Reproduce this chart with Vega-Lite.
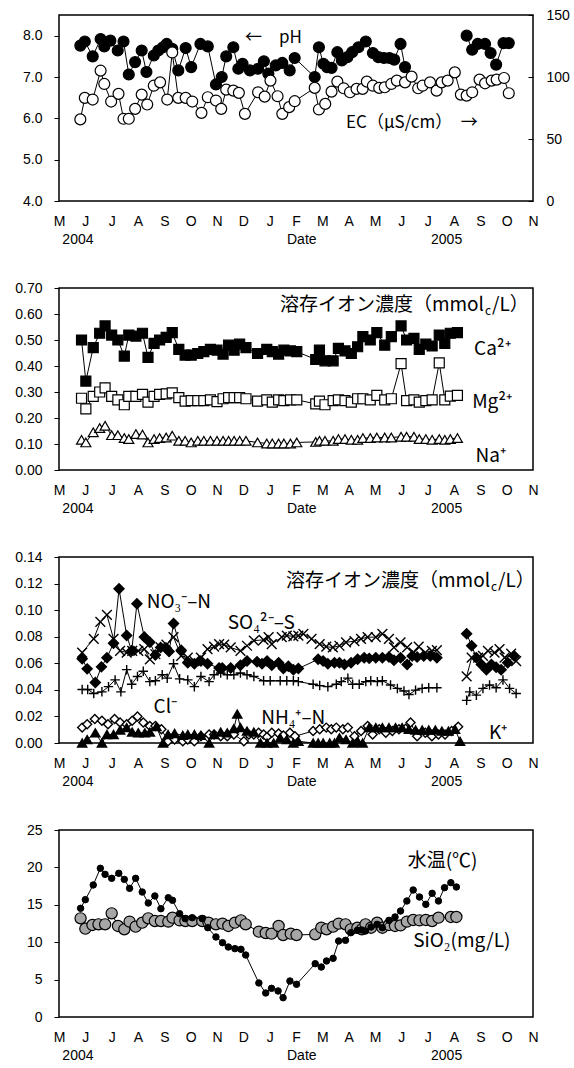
{
"$schema":"https://vega.github.io/schema/vega-lite/v6.json",
"background":"white",
"padding":{"left":14,"top":7,"right":4,"bottom":4},
"spacing":33,
"resolve":{"scale":{"shape":"independent","fill":"independent","size":"independent"}},
"config":{
 "view":{"stroke":"black","strokeWidth":1.5},
 "axis":{"grid":false,"domain":false,"labelFont":"Liberation Sans","labelFontSize":14,"labelColor":"black","tickColor":"black","tickSize":5,"labelPadding":12},
 "axisX":{"ticks":false,"labelPadding":13,"labelOverlap":false,"labelFlush":false,"labelBound":false,"labelLineHeight":18},
 "text":{"font":"Noto Sans CJK JP","color":"black"}
},
"datasets":{
"p1":[
{"m":0.81,"v":7.76,"s":"pH"},{"m":0.98,"v":7.86,"s":"pH"},{"m":1.28,"v":7.50,"s":"pH"},{"m":1.58,"v":7.92,"s":"pH"},{"m":1.72,"v":7.74,"s":"pH"},{"m":1.95,"v":7.88,"s":"pH"},{"m":2.23,"v":7.64,"s":"pH"},{"m":2.45,"v":7.86,"s":"pH"},{"m":2.65,"v":7.06,"s":"pH"},{"m":2.89,"v":7.36,"s":"pH"},{"m":3.14,"v":7.64,"s":"pH"},{"m":3.32,"v":7.12,"s":"pH"},{"m":3.60,"v":7.52,"s":"pH"},{"m":3.77,"v":7.64,"s":"pH"},{"m":3.95,"v":7.72,"s":"pH"},{"m":4.09,"v":7.80,"s":"pH"},{"m":4.30,"v":7.68,"s":"pH"},{"m":4.53,"v":7.16,"s":"pH"},{"m":4.81,"v":7.70,"s":"pH"},{"m":5.02,"v":7.24,"s":"pH"},{"m":5.37,"v":7.80,"s":"pH"},{"m":5.65,"v":7.74,"s":"pH"},{"m":5.96,"v":6.82,"s":"pH"},{"m":6.18,"v":7.00,"s":"pH"},{"m":6.35,"v":7.50,"s":"pH"},{"m":6.62,"v":7.72,"s":"pH"},{"m":6.81,"v":7.20,"s":"pH"},{"m":6.97,"v":7.32,"s":"pH"},{"m":7.25,"v":7.16,"s":"pH"},{"m":7.56,"v":7.20,"s":"pH"},{"m":7.78,"v":7.38,"s":"pH"},{"m":7.95,"v":7.08,"s":"pH"},{"m":8.23,"v":7.28,"s":"pH"},{"m":8.48,"v":7.34,"s":"pH"},{"m":8.76,"v":7.16,"s":"pH"},{"m":8.95,"v":7.46,"s":"pH"},{"m":9.71,"v":7.00,"s":"pH"},{"m":9.87,"v":7.72,"s":"pH"},{"m":10.04,"v":7.32,"s":"pH"},{"m":10.18,"v":7.24,"s":"pH"},{"m":10.35,"v":7.22,"s":"pH"},{"m":10.57,"v":7.60,"s":"pH"},{"m":10.74,"v":7.40,"s":"pH"},{"m":10.95,"v":7.48,"s":"pH"},{"m":11.13,"v":7.60,"s":"pH"},{"m":11.37,"v":7.72,"s":"pH"},{"m":11.65,"v":7.86,"s":"pH"},{"m":11.92,"v":7.58,"s":"pH"},{"m":12.13,"v":7.48,"s":"pH"},{"m":12.34,"v":7.46,"s":"pH"},{"m":12.55,"v":7.46,"s":"pH"},{"m":12.73,"v":7.42,"s":"pH"},{"m":12.97,"v":7.80,"s":"pH"},{"m":13.14,"v":7.24,"s":"pH"},
{"m":15.48,"v":8.00,"s":"pH","g":2},{"m":15.69,"v":7.66,"s":"pH","g":2},{"m":15.90,"v":7.80,"s":"pH","g":2},{"m":16.18,"v":7.80,"s":"pH","g":2},{"m":16.39,"v":7.58,"s":"pH","g":2},{"m":16.60,"v":7.30,"s":"pH","g":2},{"m":16.88,"v":7.82,"s":"pH","g":2},{"m":17.08,"v":7.82,"s":"pH","g":2},
{"m":0.81,"v":65.8,"s":"EC"},{"m":0.98,"v":83.2,"s":"EC"},{"m":1.28,"v":81.8,"s":"EC"},{"m":1.58,"v":105.1,"s":"EC"},{"m":1.72,"v":94.4,"s":"EC"},{"m":1.98,"v":80.2,"s":"EC"},{"m":2.26,"v":86.4,"s":"EC"},{"m":2.45,"v":66.3,"s":"EC"},{"m":2.65,"v":66.3,"s":"EC"},{"m":2.89,"v":74.3,"s":"EC"},{"m":3.14,"v":85.8,"s":"EC"},{"m":3.35,"v":77.8,"s":"EC"},{"m":3.60,"v":93.0,"s":"EC"},{"m":3.84,"v":95.7,"s":"EC"},{"m":4.11,"v":81.8,"s":"EC"},{"m":4.30,"v":119.8,"s":"EC"},{"m":4.53,"v":83.2,"s":"EC"},{"m":4.81,"v":83.2,"s":"EC"},{"m":5.06,"v":80.2,"s":"EC"},{"m":5.41,"v":71.1,"s":"EC"},{"m":5.65,"v":83.7,"s":"EC"},{"m":5.96,"v":81.0,"s":"EC"},{"m":6.16,"v":74.3,"s":"EC"},{"m":6.35,"v":89.8,"s":"EC"},{"m":6.62,"v":89.0,"s":"EC"},{"m":6.83,"v":87.2,"s":"EC"},{"m":7.06,"v":70.3,"s":"EC"},{"m":7.56,"v":87.7,"s":"EC"},{"m":7.81,"v":84.2,"s":"EC"},{"m":8.03,"v":97.1,"s":"EC"},{"m":8.30,"v":84.5,"s":"EC"},{"m":8.48,"v":70.3,"s":"EC"},{"m":8.74,"v":75.7,"s":"EC"},{"m":8.95,"v":80.5,"s":"EC"},{"m":9.71,"v":91.2,"s":"EC"},{"m":9.87,"v":73.8,"s":"EC"},{"m":10.11,"v":78.3,"s":"EC"},{"m":10.35,"v":88.2,"s":"EC"},{"m":10.57,"v":96.3,"s":"EC"},{"m":10.81,"v":90.9,"s":"EC"},{"m":11.05,"v":87.7,"s":"EC"},{"m":11.30,"v":90.4,"s":"EC"},{"m":11.53,"v":90.4,"s":"EC"},{"m":11.69,"v":96.3,"s":"EC"},{"m":11.92,"v":93.0,"s":"EC"},{"m":12.16,"v":91.2,"s":"EC"},{"m":12.37,"v":91.7,"s":"EC"},{"m":12.62,"v":94.4,"s":"EC"},{"m":12.83,"v":97.1,"s":"EC"},{"m":13.14,"v":95.7,"s":"EC"},{"m":13.39,"v":100.3,"s":"EC"},{"m":13.64,"v":90.9,"s":"EC"},{"m":13.81,"v":93.0,"s":"EC"},{"m":14.09,"v":95.7,"s":"EC"},{"m":14.34,"v":89.0,"s":"EC"},{"m":14.53,"v":95.7,"s":"EC"},{"m":14.76,"v":97.1,"s":"EC"},{"m":15.03,"v":103.7,"s":"EC"},{"m":15.26,"v":85.8,"s":"EC"},{"m":15.48,"v":85.0,"s":"EC"},{"m":15.69,"v":87.7,"s":"EC"},{"m":15.97,"v":97.9,"s":"EC"},{"m":16.18,"v":94.9,"s":"EC"},{"m":16.43,"v":97.1,"s":"EC"},{"m":16.62,"v":97.9,"s":"EC"},{"m":16.90,"v":99.2,"s":"EC"},{"m":17.08,"v":86.9,"s":"EC"}
],
"p2":[
{"m":0.855,"v":0.500,"s":"Ca"},{"m":1.02,"v":0.342,"s":"Ca"},{"m":1.30,"v":0.471,"s":"Ca"},{"m":1.545,"v":0.526,"s":"Ca"},{"m":1.75,"v":0.554,"s":"Ca"},{"m":2.0,"v":0.519,"s":"Ca"},{"m":2.235,"v":0.500,"s":"Ca"},{"m":2.48,"v":0.438,"s":"Ca"},{"m":2.65,"v":0.519,"s":"Ca"},{"m":2.92,"v":0.515,"s":"Ca"},{"m":3.17,"v":0.526,"s":"Ca"},{"m":3.38,"v":0.433,"s":"Ca"},{"m":3.61,"v":0.487,"s":"Ca"},{"m":3.82,"v":0.500,"s":"Ca"},{"m":4.07,"v":0.510,"s":"Ca"},{"m":4.30,"v":0.528,"s":"Ca"},{"m":4.55,"v":0.464,"s":"Ca"},{"m":4.79,"v":0.442,"s":"Ca"},{"m":5.02,"v":0.442,"s":"Ca"},{"m":5.27,"v":0.448,"s":"Ca"},{"m":5.50,"v":0.455,"s":"Ca"},{"m":5.75,"v":0.464,"s":"Ca"},{"m":6.0,"v":0.461,"s":"Ca"},{"m":6.23,"v":0.446,"s":"Ca"},{"m":6.44,"v":0.480,"s":"Ca"},{"m":6.65,"v":0.461,"s":"Ca"},{"m":6.86,"v":0.484,"s":"Ca"},{"m":7.10,"v":0.471,"s":"Ca"},{"m":7.54,"v":0.448,"s":"Ca"},{"m":7.89,"v":0.464,"s":"Ca"},{"m":8.10,"v":0.455,"s":"Ca"},{"m":8.34,"v":0.446,"s":"Ca"},{"m":8.54,"v":0.461,"s":"Ca"},{"m":8.79,"v":0.458,"s":"Ca"},{"m":9.03,"v":0.455,"s":"Ca"},{"m":9.75,"v":0.425,"s":"Ca"},{"m":9.89,"v":0.461,"s":"Ca"},{"m":10.10,"v":0.420,"s":"Ca"},{"m":10.41,"v":0.420,"s":"Ca"},{"m":10.61,"v":0.468,"s":"Ca"},{"m":10.86,"v":0.458,"s":"Ca"},{"m":11.10,"v":0.448,"s":"Ca"},{"m":11.34,"v":0.474,"s":"Ca"},{"m":11.54,"v":0.513,"s":"Ca"},{"m":11.82,"v":0.500,"s":"Ca"},{"m":12.07,"v":0.528,"s":"Ca"},{"m":12.37,"v":0.480,"s":"Ca"},{"m":12.62,"v":0.513,"s":"Ca"},{"m":12.99,"v":0.554,"s":"Ca"},{"m":13.20,"v":0.500,"s":"Ca"},{"m":13.48,"v":0.506,"s":"Ca"},{"m":13.68,"v":0.464,"s":"Ca"},{"m":13.93,"v":0.484,"s":"Ca"},{"m":14.17,"v":0.477,"s":"Ca"},{"m":14.44,"v":0.519,"s":"Ca"},{"m":14.65,"v":0.487,"s":"Ca"},{"m":14.86,"v":0.526,"s":"Ca"},{"m":15.13,"v":0.528,"s":"Ca"},
{"m":0.855,"v":0.276,"s":"Mg"},{"m":1.02,"v":0.235,"s":"Mg"},{"m":1.30,"v":0.283,"s":"Mg"},{"m":1.545,"v":0.300,"s":"Mg"},{"m":1.75,"v":0.316,"s":"Mg"},{"m":2.0,"v":0.283,"s":"Mg"},{"m":2.235,"v":0.270,"s":"Mg"},{"m":2.48,"v":0.251,"s":"Mg"},{"m":2.65,"v":0.283,"s":"Mg"},{"m":2.92,"v":0.283,"s":"Mg"},{"m":3.17,"v":0.291,"s":"Mg"},{"m":3.38,"v":0.261,"s":"Mg"},{"m":3.61,"v":0.283,"s":"Mg"},{"m":3.82,"v":0.291,"s":"Mg"},{"m":4.07,"v":0.293,"s":"Mg"},{"m":4.30,"v":0.297,"s":"Mg"},{"m":4.55,"v":0.278,"s":"Mg"},{"m":4.79,"v":0.265,"s":"Mg"},{"m":5.02,"v":0.267,"s":"Mg"},{"m":5.27,"v":0.267,"s":"Mg"},{"m":5.50,"v":0.267,"s":"Mg"},{"m":5.75,"v":0.270,"s":"Mg"},{"m":6.0,"v":0.263,"s":"Mg"},{"m":6.23,"v":0.274,"s":"Mg"},{"m":6.44,"v":0.278,"s":"Mg"},{"m":6.65,"v":0.278,"s":"Mg"},{"m":6.86,"v":0.278,"s":"Mg"},{"m":7.10,"v":0.274,"s":"Mg"},{"m":7.54,"v":0.265,"s":"Mg"},{"m":7.89,"v":0.270,"s":"Mg"},{"m":8.10,"v":0.261,"s":"Mg"},{"m":8.34,"v":0.270,"s":"Mg"},{"m":8.54,"v":0.267,"s":"Mg"},{"m":8.79,"v":0.270,"s":"Mg"},{"m":9.03,"v":0.270,"s":"Mg"},{"m":9.75,"v":0.254,"s":"Mg"},{"m":9.89,"v":0.265,"s":"Mg"},{"m":10.10,"v":0.251,"s":"Mg"},{"m":10.41,"v":0.267,"s":"Mg"},{"m":10.61,"v":0.270,"s":"Mg"},{"m":10.86,"v":0.267,"s":"Mg"},{"m":11.10,"v":0.261,"s":"Mg"},{"m":11.34,"v":0.274,"s":"Mg"},{"m":11.54,"v":0.274,"s":"Mg"},{"m":11.82,"v":0.270,"s":"Mg"},{"m":12.07,"v":0.287,"s":"Mg"},{"m":12.37,"v":0.270,"s":"Mg"},{"m":12.62,"v":0.274,"s":"Mg"},{"m":12.99,"v":0.409,"s":"Mg"},{"m":13.20,"v":0.267,"s":"Mg"},{"m":13.48,"v":0.270,"s":"Mg"},{"m":13.68,"v":0.261,"s":"Mg"},{"m":13.93,"v":0.267,"s":"Mg"},{"m":14.17,"v":0.270,"s":"Mg"},{"m":14.44,"v":0.412,"s":"Mg"},{"m":14.65,"v":0.270,"s":"Mg"},{"m":14.86,"v":0.284,"s":"Mg"},{"m":15.13,"v":0.287,"s":"Mg"},
{"m":0.855,"v":0.116,"s":"Na"},{"m":1.02,"v":0.106,"s":"Na"},{"m":1.30,"v":0.145,"s":"Na"},{"m":1.545,"v":0.161,"s":"Na"},{"m":1.75,"v":0.170,"s":"Na"},{"m":2.0,"v":0.134,"s":"Na"},{"m":2.235,"v":0.134,"s":"Na"},{"m":2.48,"v":0.123,"s":"Na"},{"m":2.65,"v":0.119,"s":"Na"},{"m":2.92,"v":0.138,"s":"Na"},{"m":3.17,"v":0.136,"s":"Na"},{"m":3.38,"v":0.106,"s":"Na"},{"m":3.61,"v":0.119,"s":"Na"},{"m":3.82,"v":0.123,"s":"Na"},{"m":4.07,"v":0.125,"s":"Na"},{"m":4.30,"v":0.132,"s":"Na"},{"m":4.55,"v":0.112,"s":"Na"},{"m":4.79,"v":0.112,"s":"Na"},{"m":5.02,"v":0.106,"s":"Na"},{"m":5.27,"v":0.112,"s":"Na"},{"m":5.50,"v":0.112,"s":"Na"},{"m":5.75,"v":0.112,"s":"Na"},{"m":6.0,"v":0.112,"s":"Na"},{"m":6.23,"v":0.112,"s":"Na"},{"m":6.44,"v":0.112,"s":"Na"},{"m":6.65,"v":0.112,"s":"Na"},{"m":6.86,"v":0.112,"s":"Na"},{"m":7.10,"v":0.112,"s":"Na"},{"m":7.54,"v":0.106,"s":"Na"},{"m":7.89,"v":0.102,"s":"Na"},{"m":8.10,"v":0.102,"s":"Na"},{"m":8.34,"v":0.102,"s":"Na"},{"m":8.54,"v":0.102,"s":"Na"},{"m":8.79,"v":0.102,"s":"Na"},{"m":9.03,"v":0.106,"s":"Na"},{"m":9.75,"v":0.108,"s":"Na"},{"m":9.89,"v":0.112,"s":"Na"},{"m":10.10,"v":0.112,"s":"Na"},{"m":10.41,"v":0.112,"s":"Na"},{"m":10.61,"v":0.119,"s":"Na"},{"m":10.86,"v":0.119,"s":"Na"},{"m":11.10,"v":0.116,"s":"Na"},{"m":11.34,"v":0.116,"s":"Na"},{"m":11.54,"v":0.123,"s":"Na"},{"m":11.82,"v":0.123,"s":"Na"},{"m":12.07,"v":0.125,"s":"Na"},{"m":12.37,"v":0.125,"s":"Na"},{"m":12.62,"v":0.125,"s":"Na"},{"m":12.99,"v":0.128,"s":"Na"},{"m":13.20,"v":0.128,"s":"Na"},{"m":13.48,"v":0.128,"s":"Na"},{"m":13.68,"v":0.119,"s":"Na"},{"m":13.93,"v":0.119,"s":"Na"},{"m":14.17,"v":0.116,"s":"Na"},{"m":14.44,"v":0.119,"s":"Na"},{"m":14.65,"v":0.116,"s":"Na"},{"m":14.86,"v":0.119,"s":"Na"},{"m":15.13,"v":0.123,"s":"Na"}
],
"p3":[
{"m":0.88,"v":0.0116,"s":"Cl"},{"m":1.07,"v":0.0141,"s":"Cl"},{"m":1.36,"v":0.0180,"s":"Cl"},{"m":1.63,"v":0.0167,"s":"Cl"},{"m":1.86,"v":0.0141,"s":"Cl"},{"m":2.11,"v":0.0180,"s":"Cl"},{"m":2.32,"v":0.0154,"s":"Cl"},{"m":2.57,"v":0.0141,"s":"Cl"},{"m":2.78,"v":0.0167,"s":"Cl"},{"m":2.98,"v":0.0200,"s":"Cl"},{"m":3.20,"v":0.0154,"s":"Cl"},{"m":3.45,"v":0.0128,"s":"Cl"},{"m":3.66,"v":0.0128,"s":"Cl"},{"m":3.89,"v":0.0103,"s":"Cl"},{"m":4.14,"v":0.0013,"s":"Cl"},{"m":4.39,"v":0.0026,"s":"Cl"},{"m":4.70,"v":0.0013,"s":"Cl"},{"m":4.89,"v":0.0026,"s":"Cl"},{"m":5.14,"v":0.0013,"s":"Cl"},{"m":5.39,"v":0.0051,"s":"Cl"},{"m":5.70,"v":0.0064,"s":"Cl"},{"m":5.89,"v":0.0064,"s":"Cl"},{"m":6.14,"v":0.0051,"s":"Cl"},{"m":6.39,"v":0.0051,"s":"Cl"},{"m":6.64,"v":0.0064,"s":"Cl"},{"m":7.02,"v":0.0013,"s":"Cl"},{"m":7.21,"v":0.0064,"s":"Cl"},{"m":7.40,"v":0.0064,"s":"Cl"},{"m":7.58,"v":0.0077,"s":"Cl"},{"m":7.77,"v":0.0064,"s":"Cl"},{"m":7.90,"v":0.0046,"s":"Cl"},{"m":8.08,"v":0.0077,"s":"Cl"},{"m":8.34,"v":0.0072,"s":"Cl"},{"m":8.52,"v":0.0057,"s":"Cl"},{"m":8.77,"v":0.0077,"s":"Cl"},{"m":8.96,"v":0.0051,"s":"Cl"},{"m":9.65,"v":0.0090,"s":"Cl"},{"m":9.90,"v":0.0103,"s":"Cl"},{"m":10.15,"v":0.0116,"s":"Cl"},{"m":10.34,"v":0.0103,"s":"Cl"},{"m":10.53,"v":0.0116,"s":"Cl"},{"m":10.78,"v":0.0103,"s":"Cl"},{"m":10.97,"v":0.0116,"s":"Cl"},{"m":11.22,"v":0.0051,"s":"Cl"},{"m":11.47,"v":0.0090,"s":"Cl"},{"m":11.72,"v":0.0128,"s":"Cl"},{"m":11.91,"v":0.0064,"s":"Cl"},{"m":12.16,"v":0.0103,"s":"Cl"},{"m":12.41,"v":0.0077,"s":"Cl"},{"m":12.66,"v":0.0090,"s":"Cl"},{"m":12.91,"v":0.0103,"s":"Cl"},{"m":13.16,"v":0.0108,"s":"Cl"},{"m":13.35,"v":0.0154,"s":"Cl"},{"m":13.60,"v":0.0051,"s":"Cl"},{"m":13.91,"v":0.0077,"s":"Cl"},{"m":14.16,"v":0.0051,"s":"Cl"},{"m":14.41,"v":0.0064,"s":"Cl"},{"m":14.66,"v":0.0064,"s":"Cl"},{"m":14.91,"v":0.0090,"s":"Cl"},{"m":15.16,"v":0.0123,"s":"Cl"},
{"m":0.88,"v":0.0,"s":"NH4"},{"m":1.07,"v":0.0026,"s":"NH4"},{"m":1.38,"v":0.0077,"s":"NH4"},{"m":1.63,"v":0.0,"s":"NH4"},{"m":1.82,"v":0.0064,"s":"NH4"},{"m":2.07,"v":0.0064,"s":"NH4"},{"m":2.32,"v":0.0098,"s":"NH4"},{"m":2.57,"v":0.0116,"s":"NH4"},{"m":2.78,"v":0.0082,"s":"NH4"},{"m":3.01,"v":0.0077,"s":"NH4"},{"m":3.26,"v":0.0077,"s":"NH4"},{"m":3.45,"v":0.0082,"s":"NH4"},{"m":3.70,"v":0.0123,"s":"NH4"},{"m":3.95,"v":0.0,"s":"NH4"},{"m":4.14,"v":0.0064,"s":"NH4"},{"m":4.39,"v":0.0072,"s":"NH4"},{"m":4.70,"v":0.0057,"s":"NH4"},{"m":4.89,"v":0.0064,"s":"NH4"},{"m":5.14,"v":0.0064,"s":"NH4"},{"m":5.39,"v":0.0057,"s":"NH4"},{"m":5.70,"v":0.0,"s":"NH4"},{"m":5.89,"v":0.0064,"s":"NH4"},{"m":6.14,"v":0.0082,"s":"NH4"},{"m":6.39,"v":0.0077,"s":"NH4"},{"m":6.64,"v":0.0108,"s":"NH4"},{"m":6.77,"v":0.0218,"s":"NH4"},{"m":6.89,"v":0.0116,"s":"NH4"},{"m":7.14,"v":0.0090,"s":"NH4"},{"m":7.40,"v":0.0082,"s":"NH4"},{"m":7.65,"v":0.0,"s":"NH4"},{"m":7.90,"v":0.0,"s":"NH4"},{"m":8.15,"v":0.0,"s":"NH4"},{"m":8.40,"v":0.0039,"s":"NH4"},{"m":8.65,"v":0.0026,"s":"NH4"},{"m":8.90,"v":0.0,"s":"NH4"},{"m":9.09,"v":0.0013,"s":"NH4"},{"m":9.65,"v":0.0,"s":"NH4"},{"m":9.84,"v":0.0,"s":"NH4"},{"m":10.03,"v":0.0,"s":"NH4"},{"m":10.28,"v":0.0,"s":"NH4"},{"m":10.46,"v":0.0,"s":"NH4"},{"m":10.65,"v":0.0039,"s":"NH4"},{"m":10.90,"v":0.0026,"s":"NH4"},{"m":11.15,"v":0.0,"s":"NH4"},{"m":11.34,"v":0.0013,"s":"NH4"},{"m":11.53,"v":0.0,"s":"NH4"},{"m":11.78,"v":0.0116,"s":"NH4"},{"m":12.03,"v":0.0116,"s":"NH4"},{"m":12.28,"v":0.0116,"s":"NH4"},{"m":12.53,"v":0.0116,"s":"NH4"},{"m":12.78,"v":0.0116,"s":"NH4"},{"m":13.03,"v":0.0116,"s":"NH4"},{"m":13.29,"v":0.0103,"s":"NH4"},{"m":13.54,"v":0.0098,"s":"NH4"},{"m":13.79,"v":0.0098,"s":"NH4"},{"m":14.04,"v":0.0098,"s":"NH4"},{"m":14.29,"v":0.0098,"s":"NH4"},{"m":14.54,"v":0.0090,"s":"NH4"},{"m":14.79,"v":0.0090,"s":"NH4"},{"m":15.04,"v":0.0103,"s":"NH4"},{"m":15.23,"v":0.0013,"s":"NH4"},
{"m":0.88,"v":0.0403,"s":"K"},{"m":1.09,"v":0.0403,"s":"K"},{"m":1.32,"v":0.0373,"s":"K"},{"m":1.63,"v":0.0385,"s":"K"},{"m":1.88,"v":0.0424,"s":"K"},{"m":2.13,"v":0.0475,"s":"K"},{"m":2.35,"v":0.0385,"s":"K"},{"m":2.57,"v":0.0552,"s":"K"},{"m":2.76,"v":0.0442,"s":"K"},{"m":2.98,"v":0.0501,"s":"K"},{"m":3.20,"v":0.0540,"s":"K"},{"m":3.45,"v":0.0462,"s":"K"},{"m":3.66,"v":0.0468,"s":"K"},{"m":3.92,"v":0.0514,"s":"K"},{"m":4.11,"v":0.0488,"s":"K"},{"m":4.35,"v":0.0596,"s":"K"},{"m":4.58,"v":0.0483,"s":"K"},{"m":4.89,"v":0.0475,"s":"K"},{"m":5.14,"v":0.0424,"s":"K"},{"m":5.39,"v":0.0501,"s":"K"},{"m":5.70,"v":0.0462,"s":"K"},{"m":5.89,"v":0.0514,"s":"K"},{"m":6.14,"v":0.0527,"s":"K"},{"m":6.39,"v":0.0514,"s":"K"},{"m":6.64,"v":0.0514,"s":"K"},{"m":6.89,"v":0.0527,"s":"K"},{"m":7.14,"v":0.0514,"s":"K"},{"m":7.40,"v":0.0501,"s":"K"},{"m":7.77,"v":0.0468,"s":"K"},{"m":8.02,"v":0.0468,"s":"K"},{"m":8.40,"v":0.0468,"s":"K"},{"m":8.65,"v":0.0468,"s":"K"},{"m":8.90,"v":0.0468,"s":"K"},{"m":9.09,"v":0.0462,"s":"K"},{"m":9.65,"v":0.0442,"s":"K"},{"m":9.90,"v":0.0432,"s":"K"},{"m":10.21,"v":0.0424,"s":"K"},{"m":10.53,"v":0.0442,"s":"K"},{"m":10.72,"v":0.0462,"s":"K"},{"m":10.97,"v":0.0488,"s":"K"},{"m":11.15,"v":0.0442,"s":"K"},{"m":11.40,"v":0.0442,"s":"K"},{"m":11.65,"v":0.0462,"s":"K"},{"m":11.84,"v":0.0468,"s":"K"},{"m":12.09,"v":0.0462,"s":"K"},{"m":12.28,"v":0.0468,"s":"K"},{"m":12.59,"v":0.0437,"s":"K"},{"m":12.85,"v":0.0411,"s":"K"},{"m":13.10,"v":0.0391,"s":"K"},{"m":13.29,"v":0.0365,"s":"K"},{"m":13.54,"v":0.0398,"s":"K"},{"m":13.79,"v":0.0411,"s":"K"},{"m":14.04,"v":0.0416,"s":"K"},{"m":14.35,"v":0.0416,"s":"K"},
{"m":15.48,"v":0.0321,"s":"K","g":2},{"m":15.60,"v":0.0385,"s":"K","g":2},{"m":15.85,"v":0.0360,"s":"K","g":2},{"m":16.10,"v":0.0411,"s":"K","g":2},{"m":16.35,"v":0.0437,"s":"K","g":2},{"m":16.60,"v":0.0416,"s":"K","g":2},{"m":16.86,"v":0.0475,"s":"K","g":2},{"m":17.11,"v":0.0411,"s":"K","g":2},{"m":17.36,"v":0.0373,"s":"K","g":2},
{"m":0.88,"v":0.0681,"s":"SO4"},{"m":1.32,"v":0.0784,"s":"SO4"},{"m":1.57,"v":0.0912,"s":"SO4"},{"m":1.82,"v":0.0964,"s":"SO4"},{"m":2.07,"v":0.0784,"s":"SO4"},{"m":2.32,"v":0.0694,"s":"SO4"},{"m":2.57,"v":0.0681,"s":"SO4"},{"m":2.78,"v":0.0694,"s":"SO4"},{"m":3.01,"v":0.0694,"s":"SO4"},{"m":3.24,"v":0.0707,"s":"SO4"},{"m":3.45,"v":0.0630,"s":"SO4"},{"m":3.66,"v":0.0668,"s":"SO4"},{"m":3.86,"v":0.0719,"s":"SO4"},{"m":4.08,"v":0.0740,"s":"SO4"},{"m":4.35,"v":0.0797,"s":"SO4"},{"m":4.64,"v":0.0655,"s":"SO4"},{"m":4.89,"v":0.0642,"s":"SO4"},{"m":5.14,"v":0.0617,"s":"SO4"},{"m":5.39,"v":0.0642,"s":"SO4"},{"m":5.64,"v":0.0707,"s":"SO4"},{"m":5.89,"v":0.0725,"s":"SO4"},{"m":6.08,"v":0.0745,"s":"SO4"},{"m":6.27,"v":0.0740,"s":"SO4"},{"m":6.52,"v":0.0719,"s":"SO4"},{"m":6.89,"v":0.0694,"s":"SO4"},{"m":7.14,"v":0.0732,"s":"SO4"},{"m":7.40,"v":0.0771,"s":"SO4"},{"m":7.77,"v":0.0776,"s":"SO4"},{"m":7.96,"v":0.0797,"s":"SO4"},{"m":8.08,"v":0.0745,"s":"SO4"},{"m":8.46,"v":0.0797,"s":"SO4"},{"m":8.65,"v":0.0809,"s":"SO4"},{"m":8.90,"v":0.0802,"s":"SO4"},{"m":9.09,"v":0.0809,"s":"SO4"},{"m":9.28,"v":0.0822,"s":"SO4"},{"m":9.59,"v":0.0784,"s":"SO4"},{"m":9.90,"v":0.0745,"s":"SO4"},{"m":10.15,"v":0.0725,"s":"SO4"},{"m":10.40,"v":0.0719,"s":"SO4"},{"m":10.65,"v":0.0732,"s":"SO4"},{"m":10.90,"v":0.0758,"s":"SO4"},{"m":11.22,"v":0.0766,"s":"SO4"},{"m":11.47,"v":0.0784,"s":"SO4"},{"m":11.72,"v":0.0797,"s":"SO4"},{"m":12.03,"v":0.0797,"s":"SO4"},{"m":12.28,"v":0.0822,"s":"SO4"},{"m":12.53,"v":0.0784,"s":"SO4"},{"m":12.72,"v":0.0719,"s":"SO4"},{"m":12.97,"v":0.0758,"s":"SO4"},{"m":13.22,"v":0.0719,"s":"SO4"},{"m":13.47,"v":0.0681,"s":"SO4"},{"m":13.66,"v":0.0725,"s":"SO4"},{"m":13.91,"v":0.0681,"s":"SO4"},{"m":14.16,"v":0.0694,"s":"SO4"},{"m":14.35,"v":0.0699,"s":"SO4"},
{"m":15.48,"v":0.0501,"s":"SO4","g":2},{"m":15.67,"v":0.0642,"s":"SO4","g":2},{"m":15.92,"v":0.0642,"s":"SO4","g":2},{"m":16.10,"v":0.0655,"s":"SO4","g":2},{"m":16.29,"v":0.0694,"s":"SO4","g":2},{"m":16.54,"v":0.0681,"s":"SO4","g":2},{"m":16.73,"v":0.0707,"s":"SO4","g":2},{"m":16.92,"v":0.0642,"s":"SO4","g":2},{"m":17.17,"v":0.0673,"s":"SO4","g":2},{"m":17.36,"v":0.0617,"s":"SO4","g":2},
{"m":0.88,"v":0.0635,"s":"NO3"},{"m":1.07,"v":0.0558,"s":"NO3"},{"m":1.38,"v":0.0455,"s":"NO3"},{"m":1.61,"v":0.0573,"s":"NO3"},{"m":1.82,"v":0.0642,"s":"NO3"},{"m":2.07,"v":0.0750,"s":"NO3"},{"m":2.28,"v":0.1161,"s":"NO3"},{"m":2.57,"v":0.0809,"s":"NO3"},{"m":2.76,"v":0.0694,"s":"NO3"},{"m":2.96,"v":0.1048,"s":"NO3"},{"m":3.24,"v":0.0797,"s":"NO3"},{"m":3.45,"v":0.0758,"s":"NO3"},{"m":3.66,"v":0.0663,"s":"NO3"},{"m":3.86,"v":0.0719,"s":"NO3"},{"m":4.08,"v":0.0714,"s":"NO3"},{"m":4.18,"v":0.0689,"s":"NO3"},{"m":4.35,"v":0.0899,"s":"NO3"},{"m":4.64,"v":0.0699,"s":"NO3"},{"m":4.89,"v":0.0604,"s":"NO3"},{"m":5.14,"v":0.0596,"s":"NO3"},{"m":5.39,"v":0.0617,"s":"NO3"},{"m":5.64,"v":0.0596,"s":"NO3"},{"m":6.08,"v":0.0565,"s":"NO3"},{"m":6.20,"v":0.0565,"s":"NO3"},{"m":6.52,"v":0.0565,"s":"NO3"},{"m":6.89,"v":0.0586,"s":"NO3"},{"m":7.14,"v":0.0617,"s":"NO3"},{"m":7.52,"v":0.0612,"s":"NO3"},{"m":7.71,"v":0.0596,"s":"NO3"},{"m":7.90,"v":0.0617,"s":"NO3"},{"m":8.08,"v":0.0586,"s":"NO3"},{"m":8.34,"v":0.0604,"s":"NO3"},{"m":8.52,"v":0.0560,"s":"NO3"},{"m":8.71,"v":0.0578,"s":"NO3"},{"m":8.90,"v":0.0552,"s":"NO3"},{"m":9.09,"v":0.0560,"s":"NO3"},{"m":9.84,"v":0.0630,"s":"NO3"},{"m":10.03,"v":0.0617,"s":"NO3"},{"m":10.21,"v":0.0596,"s":"NO3"},{"m":10.46,"v":0.0604,"s":"NO3"},{"m":10.65,"v":0.0604,"s":"NO3"},{"m":10.84,"v":0.0591,"s":"NO3"},{"m":11.09,"v":0.0604,"s":"NO3"},{"m":11.34,"v":0.0630,"s":"NO3"},{"m":11.59,"v":0.0642,"s":"NO3"},{"m":11.78,"v":0.0637,"s":"NO3"},{"m":12.03,"v":0.0642,"s":"NO3"},{"m":12.28,"v":0.0642,"s":"NO3"},{"m":12.53,"v":0.0647,"s":"NO3"},{"m":12.72,"v":0.0622,"s":"NO3"},{"m":12.97,"v":0.0642,"s":"NO3"},{"m":13.22,"v":0.0591,"s":"NO3"},{"m":13.41,"v":0.0655,"s":"NO3"},{"m":13.60,"v":0.0647,"s":"NO3"},{"m":13.85,"v":0.0655,"s":"NO3"},{"m":14.10,"v":0.0655,"s":"NO3"},{"m":14.35,"v":0.0642,"s":"NO3"},
{"m":15.48,"v":0.0822,"s":"NO3","g":2},{"m":15.67,"v":0.0732,"s":"NO3","g":2},{"m":15.85,"v":0.0642,"s":"NO3","g":2},{"m":16.04,"v":0.0591,"s":"NO3","g":2},{"m":16.23,"v":0.0552,"s":"NO3","g":2},{"m":16.42,"v":0.0591,"s":"NO3","g":2},{"m":16.60,"v":0.0570,"s":"NO3","g":2},{"m":16.79,"v":0.0552,"s":"NO3","g":2},{"m":17.04,"v":0.0604,"s":"NO3","g":2},{"m":17.29,"v":0.0655,"s":"NO3","g":2}
],
"p4":[
{"m":0.82,"v":13.19,"s":"SiO2"},{"m":1.00,"v":11.81,"s":"SiO2"},{"m":1.27,"v":12.30,"s":"SiO2"},{"m":1.50,"v":12.39,"s":"SiO2"},{"m":1.75,"v":12.39,"s":"SiO2"},{"m":2.00,"v":13.86,"s":"SiO2"},{"m":2.24,"v":12.17,"s":"SiO2"},{"m":2.48,"v":11.72,"s":"SiO2"},{"m":2.68,"v":12.75,"s":"SiO2"},{"m":2.91,"v":12.08,"s":"SiO2"},{"m":3.16,"v":12.61,"s":"SiO2"},{"m":3.39,"v":13.19,"s":"SiO2"},{"m":3.64,"v":12.83,"s":"SiO2"},{"m":3.87,"v":12.83,"s":"SiO2"},{"m":4.15,"v":12.75,"s":"SiO2"},{"m":4.31,"v":13.28,"s":"SiO2"},{"m":4.58,"v":12.92,"s":"SiO2"},{"m":4.80,"v":12.83,"s":"SiO2"},{"m":5.06,"v":12.83,"s":"SiO2"},{"m":5.44,"v":12.83,"s":"SiO2"},{"m":5.68,"v":12.61,"s":"SiO2"},{"m":5.96,"v":12.39,"s":"SiO2"},{"m":6.21,"v":12.48,"s":"SiO2"},{"m":6.43,"v":12.17,"s":"SiO2"},{"m":6.68,"v":12.61,"s":"SiO2"},{"m":6.91,"v":12.92,"s":"SiO2"},{"m":7.09,"v":12.39,"s":"SiO2"},{"m":7.59,"v":11.41,"s":"SiO2"},{"m":7.85,"v":11.23,"s":"SiO2"},{"m":8.07,"v":11.14,"s":"SiO2"},{"m":8.34,"v":12.17,"s":"SiO2"},{"m":8.51,"v":10.96,"s":"SiO2"},{"m":8.80,"v":11.14,"s":"SiO2"},{"m":9.02,"v":10.96,"s":"SiO2"},{"m":9.73,"v":11.05,"s":"SiO2"},{"m":9.96,"v":11.94,"s":"SiO2"},{"m":10.16,"v":11.72,"s":"SiO2"},{"m":10.41,"v":12.08,"s":"SiO2"},{"m":10.62,"v":12.48,"s":"SiO2"},{"m":10.88,"v":12.39,"s":"SiO2"},{"m":11.08,"v":11.72,"s":"SiO2"},{"m":11.33,"v":11.94,"s":"SiO2"},{"m":11.50,"v":11.72,"s":"SiO2"},{"m":11.64,"v":12.39,"s":"SiO2"},{"m":11.85,"v":11.94,"s":"SiO2"},{"m":12.08,"v":12.61,"s":"SiO2"},{"m":12.28,"v":11.94,"s":"SiO2"},{"m":12.53,"v":12.30,"s":"SiO2"},{"m":12.76,"v":12.17,"s":"SiO2"},{"m":12.97,"v":12.25,"s":"SiO2"},{"m":13.21,"v":12.75,"s":"SiO2"},{"m":13.45,"v":12.97,"s":"SiO2"},{"m":13.69,"v":12.92,"s":"SiO2"},{"m":13.93,"v":12.97,"s":"SiO2"},{"m":14.17,"v":12.83,"s":"SiO2"},{"m":14.41,"v":13.28,"s":"SiO2"},{"m":14.88,"v":13.37,"s":"SiO2"},{"m":15.09,"v":13.37,"s":"SiO2"},
{"m":0.82,"v":14.53,"s":"T"},{"m":1.00,"v":15.69,"s":"T"},{"m":1.30,"v":17.65,"s":"T"},{"m":1.57,"v":19.88,"s":"T"},{"m":1.75,"v":19.07,"s":"T"},{"m":2.00,"v":18.54,"s":"T"},{"m":2.27,"v":19.21,"s":"T"},{"m":2.48,"v":18.40,"s":"T"},{"m":2.68,"v":17.20,"s":"T"},{"m":2.91,"v":18.54,"s":"T"},{"m":3.16,"v":16.71,"s":"T"},{"m":3.39,"v":15.24,"s":"T"},{"m":3.64,"v":16.18,"s":"T"},{"m":3.87,"v":14.48,"s":"T"},{"m":4.15,"v":15.95,"s":"T"},{"m":4.31,"v":15.60,"s":"T"},{"m":4.58,"v":13.81,"s":"T"},{"m":4.79,"v":13.15,"s":"T"},{"m":5.06,"v":13.28,"s":"T"},{"m":5.44,"v":13.15,"s":"T"},{"m":5.65,"v":11.94,"s":"T"},{"m":5.96,"v":10.70,"s":"T"},{"m":6.21,"v":9.94,"s":"T"},{"m":6.43,"v":9.36,"s":"T"},{"m":6.68,"v":9.14,"s":"T"},{"m":6.91,"v":9.05,"s":"T"},{"m":7.09,"v":8.29,"s":"T"},{"m":7.59,"v":4.55,"s":"T"},{"m":7.85,"v":3.21,"s":"T"},{"m":8.07,"v":3.83,"s":"T"},{"m":8.32,"v":3.48,"s":"T"},{"m":8.51,"v":2.58,"s":"T"},{"m":8.77,"v":4.81,"s":"T"},{"m":9.02,"v":4.37,"s":"T"},{"m":9.73,"v":7.13,"s":"T"},{"m":9.96,"v":6.68,"s":"T"},{"m":10.16,"v":7.49,"s":"T"},{"m":10.41,"v":7.84,"s":"T"},{"m":10.62,"v":10.16,"s":"T"},{"m":10.88,"v":10.25,"s":"T"},{"m":11.08,"v":11.27,"s":"T"},{"m":11.33,"v":11.59,"s":"T"},{"m":11.50,"v":11.63,"s":"T"},{"m":11.64,"v":11.50,"s":"T"},{"m":11.85,"v":12.03,"s":"T"},{"m":12.08,"v":12.39,"s":"T"},{"m":12.28,"v":11.94,"s":"T"},{"m":12.53,"v":12.92,"s":"T"},{"m":12.76,"v":13.37,"s":"T"},{"m":12.97,"v":14.17,"s":"T"},{"m":13.21,"v":15.51,"s":"T"},{"m":13.45,"v":16.98,"s":"T"},{"m":13.69,"v":16.04,"s":"T"},{"m":13.93,"v":15.06,"s":"T"},{"m":14.17,"v":16.53,"s":"T"},{"m":14.41,"v":15.51,"s":"T"},{"m":14.64,"v":17.29,"s":"T"},{"m":14.88,"v":17.96,"s":"T"},{"m":15.09,"v":17.38,"s":"T"}
]
},
"vconcat":[
{
 "width":474,"height":186,
 "data":{"name":"p1"},
 "encoding":{"x":{"field":"m","type":"quantitative","title":null,"scale":{"domain":[0,18],"nice":false,"zero":false},"axis":{"values":[0,1,2,3,4,5,6,7,8,9,10,11,12,13,14,15,16,17,18,0.7,9.2,14.7],"labelExpr":"datum.value == 0.7 ? ['', '2004'] : datum.value == 9.2 ? ['', 'Date'] : datum.value == 14.7 ? ['', '2005'] : ['M','J','J','A','S','O','N','D','J','F','M','A','M','J','J','A','S','O','N'][datum.value]"}}},
 "layer":[
  {"encoding":{"y":{"field":"v","type":"quantitative","title":null,"scale":{"domain":[4,8.5],"nice":false,"zero":false},"axis":{"values":[4,5,6,7,8],"format":".1f"}}},
   "layer":[
    {"transform":[{"filter":"datum.s=='pH'"}],"mark":{"type":"line","color":"black","strokeWidth":1},"encoding":{"detail":{"field":"g","type":"nominal"}}},
    {"transform":[{"filter":"datum.s=='pH'"}],"mark":{"type":"point","shape":"circle","filled":true,"fill":"black","stroke":"black","strokeWidth":1.2,"size":120,"opacity":1},"encoding":{}},
    {"data":{"values":[{"m":7.06,"v":7.95,"t":"←\u3000pH"},{"m":10.9,"v":5.88,"t":"EC（μS/cm）\u3000→"}]},"mark":{"type":"text","align":"left","baseline":"middle","fontSize":17},"encoding":{"text":{"field":"t"}}}
   ]},
  {"encoding":{"y":{"field":"v","type":"quantitative","title":null,"scale":{"domain":[0,150],"nice":false,"zero":false},"axis":{"orient":"right","values":[0,50,100,150],"format":"d","tickSize":-5,"labelPadding":18}}},
   "layer":[
    {"transform":[{"filter":"datum.s=='EC'"}],"mark":{"type":"line","color":"black","strokeWidth":1},"encoding":{}},
    {"transform":[{"filter":"datum.s=='EC'"}],"mark":{"type":"point","shape":"circle","filled":true,"fill":"white","stroke":"black","strokeWidth":1.2,"size":120,"opacity":1},"encoding":{}}
   ]}
 ],
 "resolve":{"scale":{"y":"independent"}}
},
{
 "width":474,"height":182,
 "data":{"name":"p2"},
 "encoding":{
  "x":{"field":"m","type":"quantitative","title":null,"scale":{"domain":[0,18],"nice":false,"zero":false},"axis":{"values":[0,1,2,3,4,5,6,7,8,9,10,11,12,13,14,15,16,17,18,0.7,9.2,14.7],"labelExpr":"datum.value == 0.7 ? ['', '2004'] : datum.value == 9.2 ? ['', 'Date'] : datum.value == 14.7 ? ['', '2005'] : ['M','J','J','A','S','O','N','D','J','F','M','A','M','J','J','A','S','O','N'][datum.value]"}},
  "y":{"field":"v","type":"quantitative","title":null,"scale":{"domain":[0,0.7],"nice":false,"zero":false},"axis":{"values":[0,0.1,0.2,0.3,0.4,0.5,0.6,0.7],"format":".2f"}}
 },
 "layer":[
  {"mark":{"type":"line","color":"black","strokeWidth":1},"encoding":{"detail":{"field":"s","type":"nominal"}}},
  {"mark":{"type":"point","filled":true,"stroke":"black","strokeWidth":1.2,"size":100,"opacity":1},
   "encoding":{"shape":{"field":"s","type":"nominal","scale":{"domain":["Ca","Mg","Na"],"range":["square","square","triangle-up"]},"legend":null},
               "fill":{"field":"s","type":"nominal","scale":{"domain":["Ca","Mg","Na"],"range":["black","white","white"]},"legend":null}}},
  {"data":{"values":[{"m":16.14,"v":0.634,"t":"溶存イオン濃度（mmol"}]},"mark":{"type":"text","align":"right","baseline":"middle","fontSize":19},"encoding":{"text":{"field":"t"}}},
  {"data":{"values":[{"m":16.14,"v":0.634,"t":"c"}]},"mark":{"type":"text","align":"left","baseline":"middle","fontSize":12,"dx":1,"dy":6},"encoding":{"text":{"field":"t"}}},
  {"data":{"values":[{"m":16.14,"v":0.634,"t":"/L）"}]},"mark":{"type":"text","align":"left","baseline":"middle","fontSize":19,"dx":8},"encoding":{"text":{"field":"t"}}},
  {"data":{"values":[{"m":15.76,"v":0.467,"t":"Ca²⁺"},{"m":15.69,"v":0.261,"t":"Mg²⁺"},{"m":15.82,"v":0.054,"t":"Na⁺"}]},"mark":{"type":"text","align":"left","baseline":"middle","fontSize":19},"encoding":{"text":{"field":"t"}}}
 ]
},
{
 "width":474,"height":186,
 "data":{"name":"p3"},
 "encoding":{
  "x":{"field":"m","type":"quantitative","title":null,"scale":{"domain":[0,18],"nice":false,"zero":false},"axis":{"values":[0,1,2,3,4,5,6,7,8,9,10,11,12,13,14,15,16,17,18,0.7,9.2,14.7],"labelExpr":"datum.value == 0.7 ? ['', '2004'] : datum.value == 9.2 ? ['', 'Date'] : datum.value == 14.7 ? ['', '2005'] : ['M','J','J','A','S','O','N','D','J','F','M','A','M','J','J','A','S','O','N'][datum.value]"}},
  "y":{"field":"v","type":"quantitative","title":null,"scale":{"domain":[0,0.14],"nice":false,"zero":false},"axis":{"values":[0,0.02,0.04,0.06,0.08,0.1,0.12,0.14],"format":".2f"}}
 },
 "layer":[
  {"mark":{"type":"line","color":"black","strokeWidth":1},"encoding":{"detail":[{"field":"s","type":"nominal"},{"field":"g","type":"nominal"}]}},
  {"mark":{"type":"point","filled":true,"stroke":"black","strokeWidth":1.4,"opacity":1},
   "encoding":{"shape":{"field":"s","type":"nominal","scale":{"domain":["Cl","NH4","K","SO4","NO3"],"range":["diamond","triangle-up","M-1,0L1,0M0,-1L0,1","M-1,-1L1,1M-1,1L1,-1","diamond"]},"legend":null},
               "fill":{"field":"s","type":"nominal","scale":{"domain":["Cl","NH4","K","SO4","NO3"],"range":["white","black","transparent","transparent","black"]},"legend":null},
               "size":{"field":"s","type":"nominal","scale":{"domain":["Cl","NH4","K","SO4","NO3"],"range":[80,100,95,120,110]},"legend":null}}},
  {"data":{"values":[{"m":16.37,"v":0.122,"t":"溶存イオン濃度（mmol"}]},"mark":{"type":"text","align":"right","baseline":"middle","fontSize":19},"encoding":{"text":{"field":"t"}}},
  {"data":{"values":[{"m":16.37,"v":0.122,"t":"c"}]},"mark":{"type":"text","align":"left","baseline":"middle","fontSize":12,"dx":1,"dy":6},"encoding":{"text":{"field":"t"}}},
  {"data":{"values":[{"m":16.37,"v":0.122,"t":"/L）"}]},"mark":{"type":"text","align":"left","baseline":"middle","fontSize":19,"dx":8},"encoding":{"text":{"field":"t"}}},
  {"data":{"values":[{"m":3.33,"v":0.106,"t":"NO₃⁻–N"},{"m":6.41,"v":0.090,"t":"SO₄²⁻–S"},{"m":3.59,"v":0.027,"t":"Cl⁻"},{"m":7.68,"v":0.0185,"t":"NH₄⁺–N"},{"m":16.33,"v":0.0077,"t":"K⁺"}]},"mark":{"type":"text","align":"left","baseline":"middle","fontSize":19},"encoding":{"text":{"field":"t"}}}
 ]
},
{
 "width":474,"height":187,
 "data":{"name":"p4"},
 "encoding":{
  "x":{"field":"m","type":"quantitative","title":null,"scale":{"domain":[0,18],"nice":false,"zero":false},"axis":{"values":[0,1,2,3,4,5,6,7,8,9,10,11,12,13,14,15,16,17,18,0.7,9.2,14.7],"labelExpr":"datum.value == 0.7 ? ['', '2004'] : datum.value == 9.2 ? ['', 'Date'] : datum.value == 14.7 ? ['', '2005'] : ['M','J','J','A','S','O','N','D','J','F','M','A','M','J','J','A','S','O','N'][datum.value]"}},
  "y":{"field":"v","type":"quantitative","title":null,"scale":{"domain":[0,25],"nice":false,"zero":false},"axis":{"values":[0,5,10,15,20,25],"format":"d"}}
 },
 "layer":[
  {"transform":[{"filter":"datum.s=='SiO2'"}],"mark":{"type":"line","color":"black","strokeWidth":1},"encoding":{}},
  {"transform":[{"filter":"datum.s=='SiO2'"}],"mark":{"type":"point","shape":"circle","filled":true,"fill":"#a6a6a6","stroke":"black","strokeWidth":1.2,"size":125,"opacity":1},"encoding":{}},
  {"transform":[{"filter":"datum.s=='T'"}],"mark":{"type":"line","color":"black","strokeWidth":1},"encoding":{}},
  {"transform":[{"filter":"datum.s=='T'"}],"mark":{"type":"point","shape":"circle","filled":true,"fill":"black","stroke":"black","strokeWidth":1,"size":42,"opacity":1},"encoding":{}},
  {"data":{"values":[{"m":13.24,"v":20.9,"t":"水温(℃)"},{"m":13.45,"v":10.1,"t":"SiO₂(mg/L)"}]},"mark":{"type":"text","align":"left","baseline":"middle","fontSize":19},"encoding":{"text":{"field":"t"}}}
 ]
}
]
}
